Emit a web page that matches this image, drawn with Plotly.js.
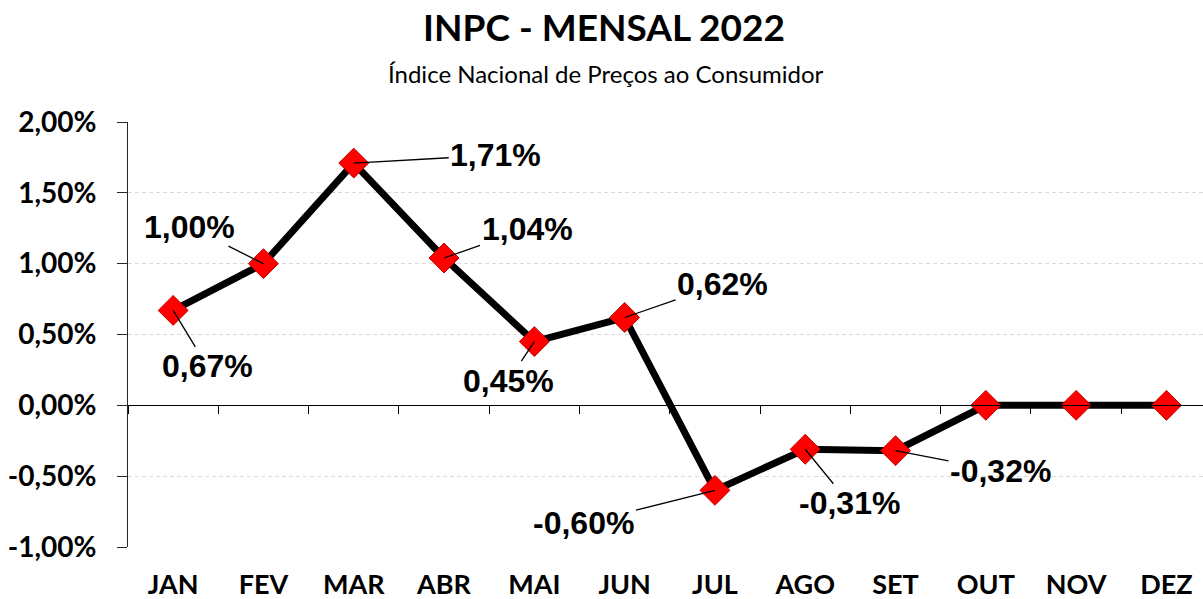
<!DOCTYPE html>
<html>
<head>
<meta charset="utf-8">
<script src="https://cdn.plot.ly/plotly-3.0.1.min.js"></script>
<style>
  html, body { margin: 0; padding: 0; background: #ffffff; }
  #chart { width: 1203px; height: 599px; }
</style>
</head>
<body>
<div id="chart"></div>
<script>
// ---- data ----
var months = ["JAN", "FEV", "MAR", "ABR", "MAI", "JUN", "JUL", "AGO", "SET", "OUT", "NOV", "DEZ"];
var inpcValues = [0.67, 1.00, 1.71, 1.04, 0.45, 0.62, -0.60, -0.31, -0.32, 0, 0, 0];
var labelledMonths = 9; // months with a published value (data labels shown)
var yTickValues = [-1, -0.5, 0, 0.5, 1, 1.5, 2];

// ---- helpers ----
function fmtPct(v) { return v.toFixed(2).replace('.', ',') + '%'; }

// label offsets (pixels from the marker to the label centre)
var labelOffsets = [
  [34, 56], [-74, -37], [142, -8], [83, -29], [-26, 39],
  [98, -34], [-131, 33], [44, 54], [105, 20]
];

var xIdx = months.map(function (_, i) { return i; });
var yMin = -1, yMax = 2;
var xMin = -0.5, xMax = 11.405;

var lineTrace = {
  x: xIdx,
  y: inpcValues,
  type: 'scatter',
  mode: 'lines+markers',
  line: { color: '#000000', width: 7 },
  marker: { symbol: 'diamond', size: 23, color: '#ff0000', line: { color: '#c00000', width: 1 } },
  hoverinfo: 'skip',
  showlegend: false
};

var axisHelper = {
  x: [0], y: [0], xaxis: 'x2', yaxis: 'y',
  type: 'scatter', mode: 'none', hoverinfo: 'skip', showlegend: false
};

var boundaryTicks = [];
for (var b = 0; b <= months.length; b++) boundaryTicks.push(b - 0.5);

var annotations = [];
for (var i = 0; i < labelledMonths; i++) {
  annotations.push({
    x: xIdx[i], y: inpcValues[i], xref: 'x', yref: 'y',
    text: '<b>' + fmtPct(inpcValues[i]) + '</b>',
    showarrow: true, arrowhead: 0, arrowwidth: 1.3, arrowcolor: '#000000',
    standoff: 0, startstandoff: 0,
    ax: labelOffsets[i][0], ay: labelOffsets[i][1],
    font: { family: 'Liberation Sans, Arial, sans-serif', size: 32, color: '#000000' }
  });
}
annotations.push({
  xref: 'paper', yref: 'paper', x: (606 - 128) / 1075, y: 1 + (122 - 73) / 425,
  xanchor: 'center', yanchor: 'middle', showarrow: false,
  text: 'Índice Nacional de Preços ao Consumidor',
  font: { family: 'Lato, sans-serif', size: 24, color: '#000000' }
});

var layout = {
  width: 1203, height: 599,
  margin: { l: 128, r: 0, t: 122, b: 52 },
  paper_bgcolor: '#ffffff', plot_bgcolor: '#ffffff',
  title: {
    text: '<b>INPC - MENSAL 2022</b>',
    x: 604 / 1203, xanchor: 'center', xref: 'container',
    y: 1 - 28 / 599, yanchor: 'middle', yref: 'container',
    font: { family: 'Lato, sans-serif', size: 37, color: '#000000' }
  },
  xaxis: {
    range: [xMin, xMax],
    tickmode: 'array', tickvals: xIdx, ticktext: months.map(function (m) { return '<b>' + m + '</b>'; }),
    showline: false, showgrid: false, zeroline: false, ticks: '',
    ticklabelstandoff: 19,
    tickfont: { family: 'Lato, sans-serif', size: 27, color: '#000000' },
    fixedrange: true
  },
  xaxis2: {
    overlaying: 'x', anchor: 'free', position: (0 - yMin) / (yMax - yMin), side: 'bottom',
    range: [xMin, xMax],
    tickmode: 'array', tickvals: boundaryTicks, showticklabels: false,
    showline: true, linecolor: '#000000', linewidth: 1,
    ticks: 'outside', ticklen: 8, tickcolor: '#000000', tickwidth: 1,
    showgrid: false, zeroline: false, fixedrange: true
  },
  yaxis: {
    range: [yMin, yMax],
    tickmode: 'array', tickvals: yTickValues,
    ticktext: yTickValues.map(function (v) { return '<b>' + fmtPct(v) + '</b>'; }),
    showline: true, linecolor: '#262626', linewidth: 1,
    ticks: 'outside', ticklen: 10, tickcolor: '#262626', tickwidth: 1,
    ticklabelstandoff: 15,
    showgrid: true, gridcolor: '#d9d9d9', gridwidth: 1, griddash: '4px,3px',
    zeroline: false,
    tickfont: { family: 'Lato, sans-serif', size: 28, color: '#000000' },
    fixedrange: true
  },
  annotations: annotations,
  showlegend: false
};

Plotly.newPlot('chart', [lineTrace, axisHelper], layout, { displayModeBar: false, staticPlot: true });
</script>
</body>
</html>
